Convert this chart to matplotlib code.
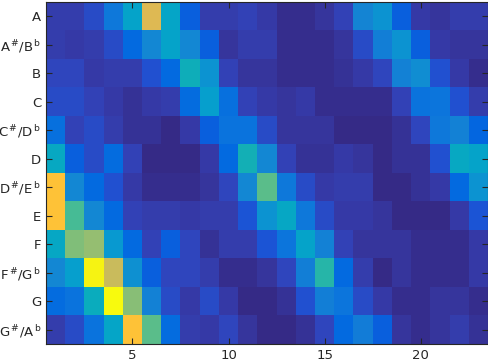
import numpy as np
import matplotlib
matplotlib.use("Agg")
import matplotlib.pyplot as plt
from matplotlib.colors import LinearSegmentedColormap

parula_anchors = [
    (0.2081, 0.1663, 0.5292), (0.2123, 0.2138, 0.6270), (0.1959, 0.2645, 0.7279),
    (0.1253, 0.3242, 0.8303), (0.0117, 0.3875, 0.8820), (0.0165, 0.4266, 0.8786),
    (0.0498, 0.4586, 0.8641), (0.0723, 0.4887, 0.8467), (0.0793, 0.5200, 0.8312),
    (0.0641, 0.5570, 0.8240), (0.0343, 0.5966, 0.8199), (0.0239, 0.6287, 0.8038),
    (0.0228, 0.6535, 0.7768), (0.0384, 0.6743, 0.7436), (0.0843, 0.6928, 0.7062),
    (0.1453, 0.7098, 0.6646), (0.2178, 0.7250, 0.6193), (0.3022, 0.7376, 0.5712),
    (0.3953, 0.7459, 0.5244), (0.4871, 0.7491, 0.4840), (0.5709, 0.7485, 0.4494),
    (0.6473, 0.7456, 0.4188), (0.7184, 0.7411, 0.3905), (0.7858, 0.7356, 0.3633),
    (0.8507, 0.7299, 0.3360), (0.9139, 0.7258, 0.3063), (0.9739, 0.7314, 0.2666),
    (0.9990, 0.7653, 0.2164), (0.9880, 0.8066, 0.1794), (0.9697, 0.8481, 0.1475),
    (0.9589, 0.8949, 0.1132), (0.9661, 0.9514, 0.0755), (0.9763, 0.9831, 0.0538),
]
parula = LinearSegmentedColormap.from_list("parula", parula_anchors, N=256)

row_labels = [r"A", r"A$^{\,\#}$/B$^{\,\mathrm{b}}$", r"B", r"C", r"C$^{\,\#}$/D$^{\,\mathrm{b}}$", r"D",
              r"D$^{\,\#}$/E$^{\,\mathrm{b}}$", r"E", r"F", r"F$^{\,\#}$/G$^{\,\mathrm{b}}$", r"G",
              r"G$^{\,\#}$/A$^{\,\mathrm{b}}$"]
x_ticks = [5, 10, 15, 20]

row_A    = [0.05, 0.05, 0.08, 0.20, 0.36, 0.76, 0.37, 0.12, 0.05, 0.05, 0.06, 0.04, 0.01, 0.01, 0.03, 0.06, 0.25, 0.30, 0.12, 0.04, 0.03, 0.05, 0.05]
row_Bb   = [0.05, 0.04, 0.05, 0.08, 0.15, 0.26, 0.36, 0.26, 0.12, 0.03, 0.05, 0.05, 0.01, 0.01, 0.01, 0.03, 0.08, 0.23, 0.30, 0.12, 0.04, 0.03, 0.03]
row_B    = [0.07, 0.07, 0.04, 0.05, 0.05, 0.09, 0.15, 0.42, 0.30, 0.06, 0.03, 0.03, 0.01, 0.01, 0.01, 0.02, 0.04, 0.07, 0.24, 0.28, 0.09, 0.04, 0.01]
row_C    = [0.08, 0.08, 0.06, 0.04, 0.02, 0.04, 0.05, 0.16, 0.34, 0.17, 0.06, 0.04, 0.03, 0.04, 0.01, 0.01, 0.01, 0.01, 0.06, 0.18, 0.19, 0.09, 0.05]
row_Db   = [0.17, 0.06, 0.08, 0.05, 0.02, 0.02, 0.00, 0.04, 0.12, 0.18, 0.18, 0.08, 0.03, 0.03, 0.03, 0.00, 0.00, 0.00, 0.02, 0.07, 0.20, 0.24, 0.14]
row_D    = [0.39, 0.12, 0.08, 0.16, 0.06, 0.00, 0.00, 0.00, 0.04, 0.15, 0.43, 0.26, 0.06, 0.02, 0.02, 0.04, 0.03, 0.00, 0.02, 0.02, 0.09, 0.39, 0.36]
row_Eb   = [0.84, 0.26, 0.15, 0.09, 0.04, 0.01, 0.01, 0.01, 0.03, 0.07, 0.26, 0.55, 0.20, 0.08, 0.04, 0.05, 0.05, 0.00, 0.00, 0.02, 0.04, 0.15, 0.30]
row_E    = [0.84, 0.52, 0.26, 0.15, 0.06, 0.05, 0.05, 0.04, 0.05, 0.05, 0.10, 0.30, 0.38, 0.20, 0.08, 0.04, 0.04, 0.03, 0.00, 0.00, 0.00, 0.04, 0.10]
row_F    = [0.38, 0.60, 0.63, 0.32, 0.15, 0.06, 0.12, 0.07, 0.02, 0.05, 0.05, 0.10, 0.19, 0.36, 0.24, 0.06, 0.03, 0.03, 0.03, 0.01, 0.01, 0.01, 0.04]
row_Gb   = [0.26, 0.34, 0.97, 0.72, 0.29, 0.12, 0.07, 0.07, 0.05, 0.01, 0.01, 0.03, 0.07, 0.23, 0.47, 0.15, 0.05, 0.00, 0.03, 0.01, 0.01, 0.01, 0.04]
row_G    = [0.16, 0.18, 0.41, 1.00, 0.61, 0.24, 0.08, 0.04, 0.08, 0.04, 0.00, 0.00, 0.02, 0.09, 0.23, 0.19, 0.08, 0.04, 0.01, 0.01, 0.03, 0.03, 0.01]
row_Ab   = [0.05, 0.08, 0.18, 0.37, 0.84, 0.55, 0.16, 0.05, 0.04, 0.07, 0.03, 0.00, 0.00, 0.02, 0.07, 0.15, 0.22, 0.12, 0.03, 0.01, 0.03, 0.05, 0.02]

data = np.array([row_A, row_Bb, row_B, row_C, row_Db, row_D, row_Eb, row_E,
                 row_F, row_Gb, row_G, row_Ab])
nrows, ncols = data.shape

fig = plt.figure(figsize=(4.89, 3.62), dpi=100)
ax = fig.add_axes([46/489, 18/362, 442/489, 342/362])
ax.imshow(data, cmap=parula, vmin=0, vmax=1, aspect="auto", interpolation="nearest",
          extent=[0.5, ncols + 0.5, nrows + 0.5, 0.5])
ax.set_xlim(0.5, ncols + 0.5)
ax.set_ylim(nrows + 0.5, 0.5)
ax.set_xticks(x_ticks)
ax.set_yticks(np.arange(1, nrows + 1))
ax.set_yticklabels(row_labels)
edge = (0.15, 0.15, 0.15)
ax.tick_params(direction="in", length=4, width=0.8, colors=edge, labelcolor=edge,
               labelsize=9.5, top=True, right=True)
for s in ax.spines.values():
    s.set_color(edge)
    s.set_linewidth(0.8)
fig.savefig("out.png", dpi=100)
